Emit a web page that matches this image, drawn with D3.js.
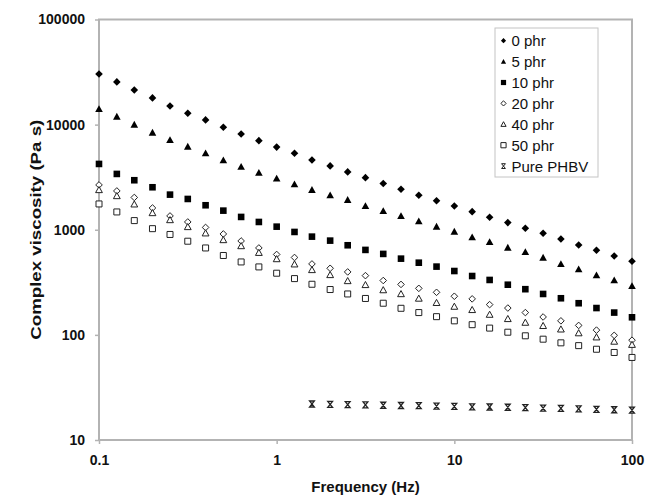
<!DOCTYPE html>
<html>
<head>
<meta charset="utf-8">
<script src="https://cdn.jsdelivr.net/npm/d3@7"></script>
<style>
  body { margin: 0; background: #fff; }
  svg { display: block; font-family: "Liberation Sans", Arial, sans-serif; }
</style>
</head>
<body>
<div id="chart"></div>
<script>
// frequencies (Hz), 10 points per decade
var freq = [0.1, 0.126, 0.158, 0.2, 0.251, 0.316, 0.398, 0.501, 0.631, 0.794,
            1, 1.26, 1.58, 2, 2.51, 3.16, 3.98, 5.01, 6.31, 7.94,
            10, 12.6, 15.8, 20, 25.1, 31.6, 39.8, 50.1, 63.1, 79.4, 100];

// complex viscosity (Pa s)
var phr0 = [30350, 25480, 21380, 17950, 15060, 12830, 11090, 9450, 8150, 7040,
            6110, 5350, 4610, 4050, 3550, 3130, 2750, 2430, 2130, 1890,
            1685, 1487, 1315, 1169, 1033, 927, 817, 717, 638, 563, 501];
var phr5 = [14100, 11910, 10000, 8400, 7150, 6180, 5350, 4580, 3980, 3490,
            3076, 2710, 2393, 2130, 1922, 1685, 1510, 1353, 1205, 1070,
            959, 849, 765, 676, 615, 543, 473, 421, 369, 331, 292];
var phr10 = [4227, 3396, 2958, 2536, 2158, 1963, 1710, 1520, 1324, 1186,
             1070, 953, 860, 788, 712, 643, 589, 531, 486, 446,
             405, 363, 333, 300, 272, 245, 223, 200, 180, 163, 147];
var phr20 = [2668, 2339, 2029, 1611, 1353, 1186, 1052, 912, 782, 671,
             582, 545, 473, 430, 397, 366, 329, 302, 277, 254,
             233, 220, 194, 180, 163, 148, 136, 123, 111, 99, 89];
var phr40 = [2393, 2097, 1748, 1445, 1239, 1064, 927, 800, 701, 605,
             527, 470, 415, 372, 326, 299, 267, 245, 222, 202,
             186, 173, 156, 142, 131, 122, 113, 104, 95, 86.5, 80.7];
var phr50 = [1760, 1477, 1222, 1024, 902, 778, 671, 569, 494, 443,
             386, 343, 303, 270, 245, 222, 200, 179, 163, 149,
             136, 125, 116, 106, 98, 91, 84, 79, 73, 68, 61];
var phbvFreq = [1.58, 2, 2.51, 3.16, 3.98, 5.01, 6.31, 7.94, 10, 12.6,
                15.8, 20, 25.1, 31.6, 39.8, 50.1, 63.1, 79.4, 100];
var phbv = [22, 21.8, 21.7, 21.6, 21.4, 21.3, 21.2, 21.0, 20.9, 20.7,
            20.6, 20.5, 20.3, 20.1, 20.0, 19.8, 19.6, 19.4, 19.2];

var seriesNames = ["0 phr", "5 phr", "10 phr", "20 phr", "40 phr", "50 phr", "Pure PHBV"];
var yTicks = [10, 100, 1000, 10000, 100000];
var xTicks = [0.1, 1, 10, 100];

var width = 645, height = 497;
var margin = {top: 19.5, right: 13, bottom: 57, left: 99};

// marker shapes, s = half size
function markerPath(kind, s) {
    if (kind === "diamond") return "M0," + (-s) + "L" + s + ",0L0," + s + "L" + (-s) + ",0Z";
    if (kind === "triangle") return "M0," + (-s) + "L" + s + "," + (s * 0.8) + "L" + (-s) + "," + (s * 0.8) + "Z";
    if (kind === "square") return "M" + (-s) + "," + (-s) + "H" + s + "V" + s + "H" + (-s) + "Z";
    // hourglass-like x
    return "M" + (-s * 0.8) + "," + (-s) + "H" + (s * 0.8) + "L" + (-s * 0.8) + "," + s + "H" + (s * 0.8) + "Z";
}

var series = [
    {name: seriesNames[0], x: freq, y: phr0, kind: "diamond", open: false, size: 3.8},
    {name: seriesNames[1], x: freq, y: phr5, kind: "triangle", open: false, size: 3.8},
    {name: seriesNames[2], x: freq, y: phr10, kind: "square", open: false, size: 3.3},
    {name: seriesNames[3], x: freq, y: phr20, kind: "diamond", open: true, size: 3.3},
    {name: seriesNames[4], x: freq, y: phr40, kind: "triangle", open: true, size: 3.4},
    {name: seriesNames[5], x: freq, y: phr50, kind: "square", open: true, size: 3.0},
    {name: seriesNames[6], x: phbvFreq, y: phbv, kind: "x", open: true, size: 3.0}
];

var svg = d3.select("#chart").append("svg")
    .attr("width", width)
    .attr("height", height);

var x = d3.scaleLog().domain([0.1, 100]).range([margin.left, width - margin.right]);
var y = d3.scaleLog().domain([10, 100000]).range([height - margin.bottom, margin.top]);

var axisColor = "#b3b3b3";

// plot frame
svg.append("rect")
    .attr("x", margin.left)
    .attr("y", margin.top)
    .attr("width", width - margin.left - margin.right)
    .attr("height", height - margin.top - margin.bottom)
    .attr("fill", "none")
    .attr("stroke", axisColor)
    .attr("stroke-width", 2);

//y axis
var gy = svg.append("g")
    .attr("transform", "translate(" + margin.left + ",0)")
    .call(d3.axisLeft(y).tickValues(yTicks).tickFormat(d3.format("d")).tickSize(4).tickPadding(10));
//x axis
var gx = svg.append("g")
    .attr("transform", "translate(0," + (height - margin.bottom) + ")")
    .call(d3.axisBottom(x).tickValues(xTicks).tickFormat(function (d) { return d < 1 ? "0.1" : d3.format("d")(d); }).tickSize(4).tickPadding(11));

[gx, gy].forEach(function (g) {
    g.select(".domain").remove();
    g.selectAll(".tick line").attr("stroke", axisColor).attr("stroke-width", 1.5);
    g.selectAll(".tick text")
        .attr("fill", "#111")
        .style("font-size", "14px")
        .style("font-weight", "bold")
        .style("font-family", "'Liberation Sans', Arial, sans-serif");
});

// axis titles
svg.append("text")
    .attr("x", (margin.left + width - margin.right) / 2)
    .attr("y", 492)
    .attr("text-anchor", "middle")
    .attr("fill", "#111")
    .style("font-size", "15px")
    .style("font-weight", "bold")
    .text("Frequency (Hz)");

svg.append("text")
    .attr("transform", "translate(41," + ((margin.top + height - margin.bottom) / 2) + ") rotate(-90)")
    .attr("text-anchor", "middle")
    .attr("fill", "#111")
    .attr("textLength", 220)
    .attr("lengthAdjust", "spacingAndGlyphs")
    .style("font-size", "15px")
    .style("font-weight", "bold")
    .text("Complex viscosity (Pa s)");

// data markers
series.forEach(function (s) {
    svg.append("g").selectAll("path")
        .data(s.y)
        .enter()
        .append("path")
        .attr("transform", function (d, i) { return "translate(" + x(s.x[i]) + "," + y(d) + ")"; })
        .attr("d", markerPath(s.kind, s.size))
        .attr("fill", s.open ? (s.kind === "x" ? "none" : "#fff") : "#000")
        .attr("stroke", s.open ? "#222" : "none")
        .attr("stroke-width", s.kind === "x" ? 1.3 : 1);
});

// legend
var legend = svg.append("g").attr("transform", "translate(495,28)");
legend.append("rect")
    .attr("width", 103)
    .attr("height", 149)
    .attr("fill", "#fff")
    .attr("stroke", "#c4c4c4")
    .attr("stroke-width", 1);
var rows = legend.selectAll("g.row")
    .data(series)
    .enter()
    .append("g")
    .attr("class", "row")
    .attr("transform", function (d, i) { return "translate(0," + (12.7 + i * 20.9) + ")"; });
rows.append("path")
    .attr("transform", "translate(8.5,0)")
    .attr("d", function (d) { return markerPath(d.kind, d.kind === "x" ? 2.4 : 2.6); })
    .attr("fill", function (d) { return d.open ? (d.kind === "x" ? "none" : "#fff") : "#000"; })
    .attr("stroke", function (d) { return d.open ? "#222" : "none"; })
    .attr("stroke-width", 1);
rows.append("text")
    .attr("x", 16.5)
    .attr("dy", "0.36em")
    .attr("fill", "#111")
    .style("font-size", "15px")
    .text(function (d) { return d.name; });
</script>
</body>
</html>
